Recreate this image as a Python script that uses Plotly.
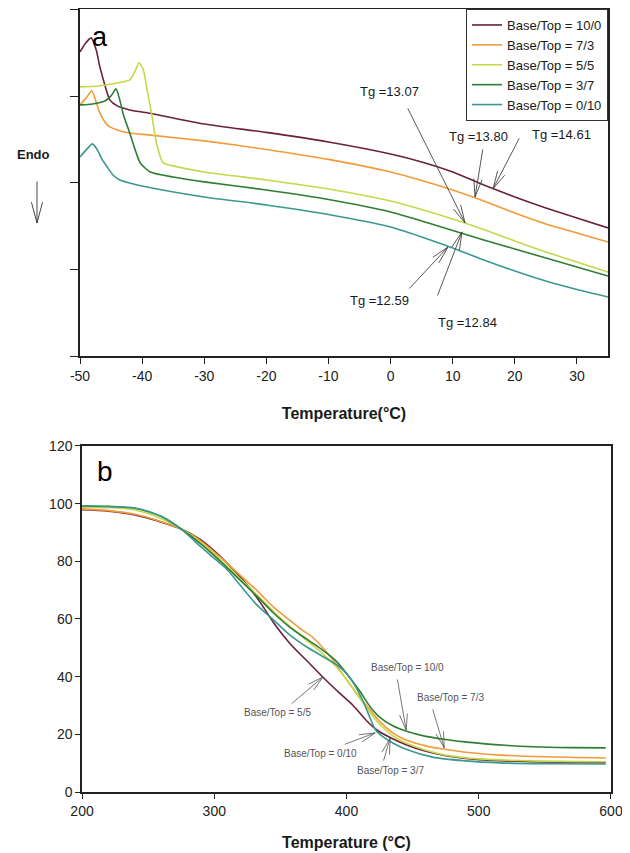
import math
import plotly.graph_objects as go

# ---------------- Panel a : DSC curves (arbitrary heat-flow units) ----------------
dsc_names = ["Base/Top = 10/0", "Base/Top = 7/3", "Base/Top = 5/5", "Base/Top = 3/7", "Base/Top = 0/10"]
dsc_colors = ["#6a2238", "#f39a3a", "#c6d84a", "#2f7d34", "#3a9890"]

dsc_x_10_0 = [-50, -49.2, -48.2, -47.4, -46.8, -46, -45.2, -44, -42, -39, -30, -20, -10, 0, 5, 10, 15, 20, 25, 30, 35]
dsc_y_10_0 = [3.514, 3.607, 3.676, 3.538, 3.341, 3.133, 2.960, 2.890, 2.844, 2.809, 2.682, 2.584, 2.474, 2.335,
              2.243, 2.127, 1.977, 1.838, 1.711, 1.595, 1.480]

dsc_x_7_3 = [-50, -49, -48.1, -47.4, -46.8, -46, -45.2, -43.5, -42, -39, -30, -20, -10, 0, 5, 10, 15, 20, 25, 30, 35]
dsc_y_7_3 = [2.902, 2.983, 3.064, 2.936, 2.809, 2.705, 2.647, 2.601, 2.578, 2.555, 2.486, 2.387, 2.272, 2.127,
             2.029, 1.919, 1.792, 1.653, 1.526, 1.422, 1.318]

dsc_x_5_5 = [-50, -47, -44, -42, -41.2, -40.5, -39.8, -39.2, -38.5, -37.7, -36.6, -35, -30, -20, -10, 0, 5, 10,
             15, 20, 25, 30, 35]
dsc_y_5_5 = [3.110, 3.121, 3.156, 3.191, 3.283, 3.387, 3.306, 3.075, 2.809, 2.462, 2.231, 2.197, 2.127, 2.035,
             1.931, 1.792, 1.694, 1.584, 1.462, 1.329, 1.202, 1.087, 0.971]

dsc_x_3_7 = [-50, -48, -46, -45, -44.2, -43.6, -43, -42, -41, -40.3, -38.7, -35, -30, -20, -10, 0, 5, 10, 15,
             20, 25, 30, 35]
dsc_y_3_7 = [2.902, 2.913, 2.948, 3.006, 3.087, 2.960, 2.786, 2.578, 2.358, 2.231, 2.127, 2.069, 2.012, 1.919,
             1.809, 1.665, 1.561, 1.451, 1.341, 1.237, 1.133, 1.029, 0.925]

dsc_x_0_10 = [-50, -49, -48, -47.2, -46.4, -45.5, -44.7, -43.6, -42, -40, -30, -20, -10, 0, 5, 10, 15, 20, 25, 30, 35]
dsc_y_0_10 = [2.301, 2.382, 2.451, 2.382, 2.266, 2.173, 2.092, 2.035, 2.000, 1.965, 1.838, 1.746, 1.636, 1.491,
              1.376, 1.249, 1.110, 0.983, 0.867, 0.769, 0.682]

dsc_x = [dsc_x_10_0, dsc_x_7_3, dsc_x_5_5, dsc_x_3_7, dsc_x_0_10]
dsc_y = [dsc_y_10_0, dsc_y_7_3, dsc_y_5_5, dsc_y_3_7, dsc_y_0_10]

# Tg labels: text, arrow head (x, y) on curve, arrow tail offset (px), label position (data)
tg_text = ["Tg =13.07", "Tg =13.80", "Tg =14.61", "Tg =12.59", "Tg =12.84"]
tg_head_x = [11.98, 13.59, 16.48, 9.24, 11.49]
tg_head_y = [1.538, 1.838, 1.931, 1.260, 1.434]
tg_tail_dx = [-58, 8, 27, -40, -25]
tg_tail_dy = [-116, -49, -52, 43, 65]
tg_label_x = [-0.10, 14.07, 27.59, -1.71, 12.30]
tg_label_y = [3.052, 2.532, 2.555, 0.647, 0.382]

dsc_xticks = [-50, -40, -30, -20, -10, 0, 10, 20, 30]
dsc_xtick_labels = ["-50", "-40", "-30", "-20", "-10", "0", "10", "20", "30"]
dsc_yticks = [0, 1, 2, 3, 4]

# ---------------- Panel b : TGA curves (weight %) ----------------
tga_x_10_0 = [200, 220, 240, 260, 275, 290, 300, 312, 325, 335, 345, 357, 370, 382, 395, 405, 415, 423, 433, 445,
              460, 475, 500, 540, 596]
tga_y_10_0 = [97.9, 97.4, 96.1, 93.6, 91.2, 87.4, 83.6, 78.3, 71.8, 65.6, 58.6, 51.6, 45.5, 39.9, 34.2, 30.0,
              24.8, 21.5, 18.9, 16.4, 14.1, 12.6, 11.2, 10.5, 10.2]

tga_x_7_3 = [200, 220, 240, 260, 275, 290, 307, 320, 332, 345, 357, 367, 375, 388, 400, 408, 416, 425, 435, 445,
             460, 473, 490, 516, 550, 596]
tga_y_7_3 = [98.2, 97.6, 96.3, 93.7, 91.2, 87.0, 80.4, 75.0, 70.0, 64.0, 59.6, 56.0, 53.4, 46.8, 39.0, 34.0,
             29.5, 24.5, 20.5, 18.0, 16.0, 14.9, 13.8, 12.8, 12.2, 11.8]

tga_x_5_5 = [200, 220, 240, 260, 275, 290, 300, 315, 332, 345, 357, 370, 382, 392, 400, 410, 418, 425, 435, 445,
             460, 475, 500, 540, 596]
tga_y_5_5 = [98.8, 98.6, 97.8, 94.8, 91.2, 86.5, 82.5, 76.0, 68.5, 62.5, 57.5, 52.5, 48.0, 43.5, 39.0, 32.5,
             27.5, 23.5, 19.5, 17.0, 14.5, 12.8, 11.5, 10.8, 10.5]

tga_x_3_7 = [200, 220, 240, 260, 275, 290, 300, 315, 332, 345, 357, 370, 382, 392, 400, 410, 418, 425, 435, 446,
             460, 475, 491, 520, 541, 570, 596]
tga_y_3_7 = [99.2, 99.0, 98.4, 95.5, 91.2, 86.0, 82.0, 75.5, 68.0, 62.0, 57.2, 53.0, 49.2, 45.5, 41.2, 35.0,
             29.5, 26.0, 23.0, 21.0, 19.3, 18.2, 17.3, 16.2, 15.7, 15.4, 15.3]

tga_x_0_10 = [200, 220, 240, 260, 275, 290, 300, 310, 320, 332, 345, 357, 370, 382, 395, 405, 412, 418, 422, 428,
              435, 445, 465, 490, 516, 550, 596]
tga_y_0_10 = [99.3, 99.1, 98.5, 95.6, 91.2, 85.0, 81.0, 77.0, 71.5, 65.0, 59.6, 54.5, 50.3, 47.0, 43.3, 38.0,
              32.0, 25.5, 21.5, 19.0, 17.0, 14.8, 12.1, 10.8, 10.1, 9.8, 9.7]

tga_x = [tga_x_10_0, tga_x_7_3, tga_x_5_5, tga_x_3_7, tga_x_0_10]
tga_y = [tga_y_10_0, tga_y_7_3, tga_y_5_5, tga_y_3_7, tga_y_0_10]

# TGA labels
tga_text = ["Base/Top = 5/5", "Base/Top = 10/0", "Base/Top = 7/3", "Base/Top = 0/10", "Base/Top = 3/7"]
tga_head_x = [382.3, 445.1, 473.9, 421.7, 433.0]
tga_head_y = [39.9, 21.5, 15.3, 20.5, 18.7]
tga_tail_dx = [-33, -9, -12, -32, -7]
tga_tail_dy = [28, -52, -40, 12, 24]
tga_label_x = [347.5, 445.9, 478.4, 380.1, 433.0]
tga_label_y = [27.7, 43.3, 32.9, 13.2, 7.6]

tga_xticks = [200, 300, 400, 500, 600]
tga_yticks = [0, 20, 40, 60, 80, 100, 120]

FONT = "Arial, Liberation Sans, sans-serif"

fig = go.Figure()

for name, color, xs, ys in zip(dsc_names, dsc_colors, dsc_x, dsc_y):
    fig.add_trace(go.Scatter(x=xs, y=ys, mode="lines", name=name,
                             line=dict(color=color, width=1.6, shape="spline", smoothing=0.6),
                             xaxis="x", yaxis="y"))

for name, color, xs, ys in zip(dsc_names, dsc_colors, tga_x, tga_y):
    fig.add_trace(go.Scatter(x=xs, y=ys, mode="lines", name=name, showlegend=False,
                             line=dict(color=color, width=1.6, shape="spline", smoothing=0.8),
                             xaxis="x2", yaxis="y2"))


def add_arrow(x, y, dx, dy, xref, yref, color, width, arm_len=20, arm_deg=14):
    fig.add_annotation(x=x, y=y, xref=xref, yref=yref, ax=dx, ay=dy, text="", showarrow=True,
                       arrowhead=0, arrowwidth=width, arrowcolor=color, standoff=0)
    theta = math.atan2(dy, dx)
    for s in (-1, 1):
        a = theta + s * math.radians(arm_deg)
        fig.add_annotation(x=x, y=y, xref=xref, yref=yref,
                           ax=arm_len * math.cos(a), ay=arm_len * math.sin(a), text="",
                           showarrow=True, arrowhead=0, arrowwidth=width, arrowcolor=color, standoff=0)


for t, hx, hy, dx, dy, lx, ly in zip(tg_text, tg_head_x, tg_head_y, tg_tail_dx, tg_tail_dy,
                                     tg_label_x, tg_label_y):
    add_arrow(hx, hy, dx, dy, "x", "y", "#444444", 0.9, arm_len=20, arm_deg=13)
    fig.add_annotation(x=lx, y=ly, xref="x", yref="y", text=t, showarrow=False,
                       xanchor="center", yanchor="middle",
                       font=dict(family=FONT, size=13, color="#1a1a1a"))

for t, hx, hy, dx, dy, lx, ly in zip(tga_text, tga_head_x, tga_head_y, tga_tail_dx, tga_tail_dy,
                                     tga_label_x, tga_label_y):
    add_arrow(hx, hy, dx, dy, "x2", "y2", "#555555", 0.8, arm_len=18, arm_deg=14)
    fig.add_annotation(x=lx, y=ly, xref="x2", yref="y2", text=t, showarrow=False,
                       xanchor="center", yanchor="middle",
                       font=dict(family=FONT, size=10, color="#555555"))

# Panel letters
fig.add_annotation(x=0.038, y=0.92, xref="x domain", yref="y domain", text="a", showarrow=False,
                   xanchor="center", yanchor="middle",
                   font=dict(family=FONT, size=27, color="black"))
fig.add_annotation(x=0.043, y=0.925, xref="x2 domain", yref="y2 domain", text="b", showarrow=False,
                   xanchor="center", yanchor="middle",
                   font=dict(family=FONT, size=28, color="black"))

# Endo label and arrow
fig.add_annotation(x=-0.088, y=0.8148, xref="paper", yref="paper", text="<b>Endo</b>", showarrow=False,
                   xanchor="center", yanchor="middle",
                   font=dict(family=FONT, size=13, color="#1a1a1a"))
fig.add_annotation(x=-0.081, y=0.7267, xref="paper", yref="paper", ax=0, ay=-43, text="", showarrow=True,
                   arrowhead=0, arrowwidth=0.9, arrowcolor="#333333", standoff=0)
for s in (-1, 1):
    a = math.radians(-90 + s * 15)
    fig.add_annotation(x=-0.081, y=0.7267, xref="paper", yref="paper", ax=23 * math.cos(a),
                       ay=23 * math.sin(a), text="", showarrow=True, arrowhead=0, arrowwidth=0.9,
                       arrowcolor="#333333", standoff=0)

axis_common = dict(showline=True, linecolor="#222222", linewidth=1.5, mirror=True, ticks="outside",
                   tickcolor="#222222", showgrid=False, zeroline=False,
                   tickfont=dict(family=FONT, size=14, color="#222222"))

fig.update_layout(
    width=622, height=845,
    margin=dict(l=72, r=19, t=1, b=61),
    paper_bgcolor="white", plot_bgcolor="white",
    font=dict(family=FONT, color="#222222"),
    showlegend=True,
    legend=dict(x=0.9944, y=1.0, xanchor="right", yanchor="top", bordercolor="#333333", borderwidth=1,
                bgcolor="white", font=dict(family=FONT, size=13, color="#1a1a1a"),
                tracegroupgap=0, itemwidth=30),
    xaxis=dict(domain=[0, 0.9944], anchor="y", range=[-50, 35], tickvals=dsc_xticks,
               ticktext=dsc_xtick_labels, ticklen=6,
               title=dict(text="<b>Temperature(°C)</b>", standoff=25,
                          font=dict(family=FONT, size=16, color="#1a1a1a")),
               automargin=False, **axis_common),
    yaxis=dict(domain=[0.5568, 1.0], anchor="x", range=[0, 4.01], tickvals=dsc_yticks, showticklabels=False,
               ticklen=8, automargin=False, **axis_common),
    xaxis2=dict(domain=[0.0038, 1.0], anchor="y2", range=[200, 600], tickvals=tga_xticks, ticklen=5,
                title=dict(text="<b>Temperature (°C)</b>", standoff=19,
                           font=dict(family=FONT, size=16, color="#1a1a1a")),
                automargin=False, **axis_common),
    yaxis2=dict(domain=[0.0, 0.4419], anchor="x2", range=[0, 120], tickvals=tga_yticks, ticklen=5,
                automargin=False, **axis_common),
)

fig.write_html("out.html")
